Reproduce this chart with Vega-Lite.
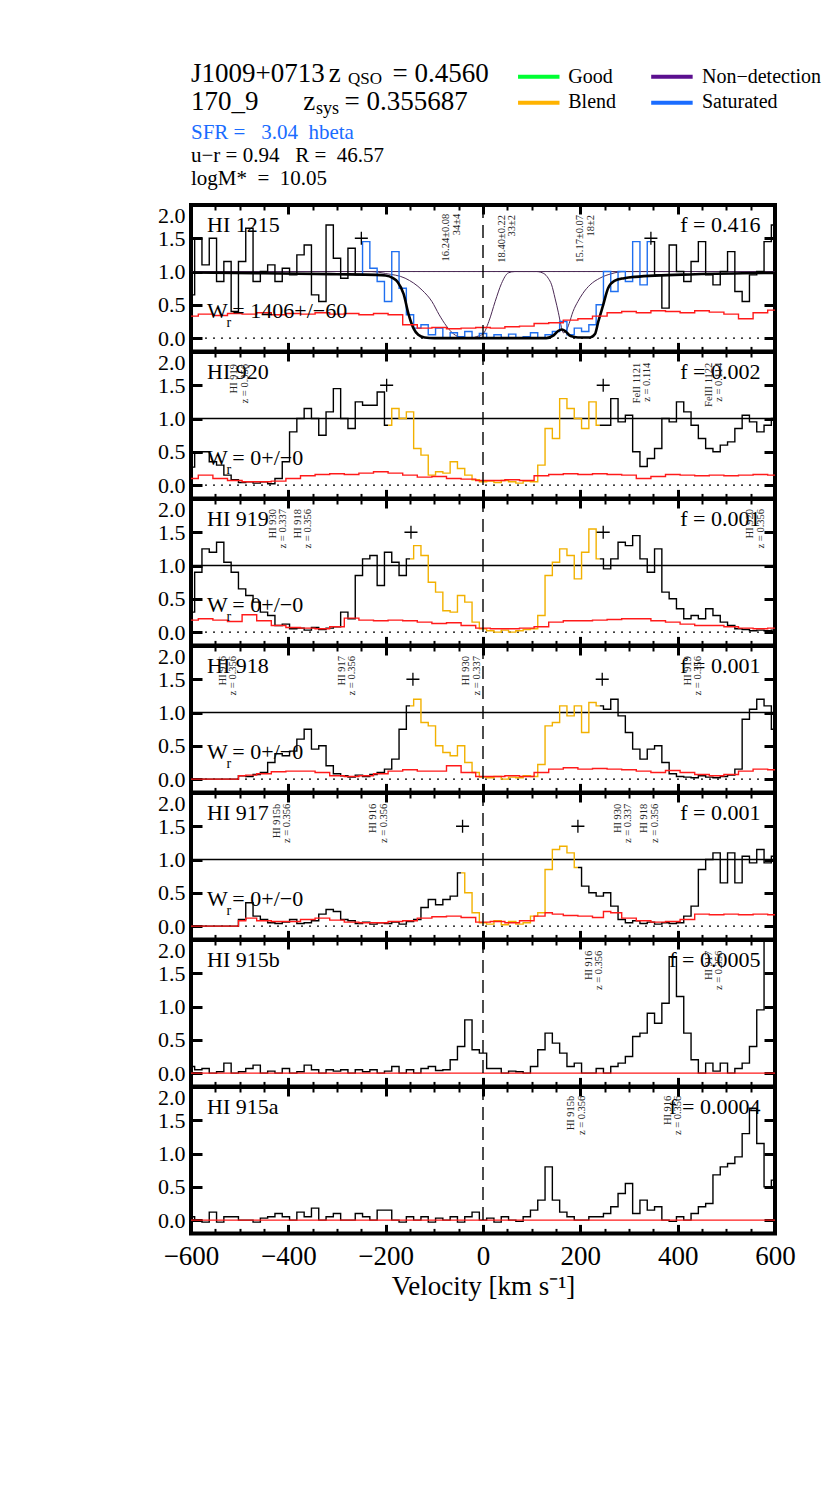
{
"$schema": "https://vega.github.io/schema/vega-lite/v6.json",
"background": "white",
"padding": {"left": 155, "top": 55, "right": 5, "bottom": 5},
"config": {"font": "Liberation Serif", "view": {"stroke": "black", "strokeWidth": 4}},
"datasets": {
"hdr": [
{"x":0,"y":2.67,"t":"J1009+0713","fs":27,"col":"black"},
{"x":23.6,"y":2.67,"t":"z","fs":27,"col":"black"},
{"x":26.9,"y":2.93,"t":"QSO","fs":17,"col":"black"},
{"x":34.5,"y":2.67,"t":"= 0.4560","fs":27,"col":"black"},
{"x":0,"y":5.5,"t":"170_9","fs":27,"col":"black"},
{"x":19.2,"y":5.5,"t":"z","fs":27,"col":"black"},
{"x":21.4,"y":5.85,"t":"sys","fs":18,"col":"black"},
{"x":26.3,"y":5.5,"t":"= 0.355687","fs":27,"col":"black"},
{"x":0,"y":8.43,"t":"SFR =\u00a0\u00a0\u00a03.04\u00a0\u00a0hbeta","fs":21,"col":"#1a6cff"},
{"x":0,"y":10.67,"t":"u−r = 0.94\u00a0\u00a0\u00a0R =\u00a0\u00a046.57","fs":21,"col":"black"},
{"x":0,"y":13.0,"t":"logM*\u00a0\u00a0=\u00a0\u00a010.05","fs":21,"col":"black"},
{"x":64.6,"y":2.75,"t":"Good","fs":20,"col":"black"},
{"x":64.6,"y":5.3,"t":"Blend","fs":20,"col":"black"},
{"x":87.5,"y":2.75,"t":"Non−detection","fs":20,"col":"black"},
{"x":87.5,"y":5.3,"t":"Saturated","fs":20,"col":"black"}
],
"leg": [
{"x":56.0,"x2":63.1,"y":2.17,"col":"#00ff33"},
{"x":56.0,"x2":63.1,"y":4.77,"col":"#ffb300"},
{"x":78.8,"x2":85.9,"y":2.17,"col":"#5b0f8f"},
{"x":78.8,"x2":85.9,"y":4.77,"col":"#1a6cff"}
],
"flux": [
{"p":1,"v":-600,"f":0.65,"s":"k1"},{"p":1,"v":-585,"f":1.5,"s":"k1"},{"p":1,"v":-570,"f":1.1,"s":"k1"},{"p":1,"v":-555,"f":1.5,"s":"k1"},{"p":1,"v":-540,"f":0.85,"s":"k1"},{"p":1,"v":-525,"f":1.15,"s":"k1"},{"p":1,"v":-510,"f":0.4,"s":"k1"},{"p":1,"v":-495,"f":1.15,"s":"k1"},{"p":1,"v":-480,"f":1.65,"s":"k1"},{"p":1,"v":-465,"f":0.85,"s":"k1"},{"p":1,"v":-450,"f":1.0,"s":"k1"},{"p":1,"v":-435,"f":1.1,"s":"k1"},{"p":1,"v":-420,"f":0.85,"s":"k1"},{"p":1,"v":-405,"f":1.05,"s":"k1"},{"p":1,"v":-390,"f":0.95,"s":"k1"},{"p":1,"v":-375,"f":1.25,"s":"k1"},{"p":1,"v":-360,"f":1.4,"s":"k1"},{"p":1,"v":-345,"f":0.65,"s":"k1"},{"p":1,"v":-330,"f":0.55,"s":"k1"},{"p":1,"v":-315,"f":1.7,"s":"k1"},{"p":1,"v":-300,"f":1.2,"s":"k1"},{"p":1,"v":-285,"f":0.9,"s":"k1"},{"p":1,"v":-270,"f":1.35,"s":"k1"},{"p":1,"v":-255,"f":0.95,"s":"k1"},
{"p":1,"v":-255,"f":0.95,"s":"b"},{"p":1,"v":-240,"f":1.45,"s":"b"},{"p":1,"v":-225,"f":1.05,"s":"b"},{"p":1,"v":-210,"f":0.85,"s":"b"},{"p":1,"v":-195,"f":0.55,"s":"b"},{"p":1,"v":-180,"f":1.3,"s":"b"},{"p":1,"v":-165,"f":0.75,"s":"b"},{"p":1,"v":-150,"f":0.35,"s":"b"},{"p":1,"v":-135,"f":0.15,"s":"b"},{"p":1,"v":-120,"f":0.2,"s":"b"},{"p":1,"v":-105,"f":0.05,"s":"b"},{"p":1,"v":-90,"f":0.15,"s":"b"},{"p":1,"v":-75,"f":0.0,"s":"b"},{"p":1,"v":-60,"f":0.08,"s":"b"},{"p":1,"v":-45,"f":0.02,"s":"b"},{"p":1,"v":-30,"f":0.1,"s":"b"},{"p":1,"v":-15,"f":0.0,"s":"b"},{"p":1,"v":0,"f":0.07,"s":"b"},{"p":1,"v":15,"f":0.0,"s":"b"},{"p":1,"v":30,"f":0.05,"s":"b"},{"p":1,"v":45,"f":0.0,"s":"b"},{"p":1,"v":60,"f":0.06,"s":"b"},{"p":1,"v":75,"f":0.0,"s":"b"},{"p":1,"v":90,"f":0.02,"s":"b"},{"p":1,"v":105,"f":0.08,"s":"b"},{"p":1,"v":120,"f":0.0,"s":"b"},{"p":1,"v":135,"f":0.05,"s":"b"},{"p":1,"v":150,"f":0.1,"s":"b"},{"p":1,"v":165,"f":0.25,"s":"b"},{"p":1,"v":180,"f":0.05,"s":"b"},{"p":1,"v":195,"f":0.15,"s":"b"},{"p":1,"v":210,"f":0.1,"s":"b"},{"p":1,"v":225,"f":0.2,"s":"b"},{"p":1,"v":240,"f":0.5,"s":"b"},{"p":1,"v":255,"f":1.0,"s":"b"},{"p":1,"v":270,"f":0.7,"s":"b"},{"p":1,"v":285,"f":1.0,"s":"b"},{"p":1,"v":300,"f":0.85,"s":"b"},{"p":1,"v":315,"f":1.45,"s":"b"},{"p":1,"v":330,"f":0.8,"s":"b"},{"p":1,"v":345,"f":1.45,"s":"b"},
{"p":1,"v":345,"f":1.45,"s":"k2"},{"p":1,"v":360,"f":0.95,"s":"k2"},{"p":1,"v":375,"f":0.45,"s":"k2"},{"p":1,"v":390,"f":1.4,"s":"k2"},{"p":1,"v":405,"f":1.0,"s":"k2"},{"p":1,"v":420,"f":0.85,"s":"k2"},{"p":1,"v":435,"f":1.15,"s":"k2"},{"p":1,"v":450,"f":1.45,"s":"k2"},{"p":1,"v":465,"f":0.95,"s":"k2"},{"p":1,"v":480,"f":0.8,"s":"k2"},{"p":1,"v":495,"f":1.0,"s":"k2"},{"p":1,"v":510,"f":1.3,"s":"k2"},{"p":1,"v":525,"f":0.7,"s":"k2"},{"p":1,"v":540,"f":0.55,"s":"k2"},{"p":1,"v":555,"f":0.95,"s":"k2"},{"p":1,"v":570,"f":1.0,"s":"k2"},{"p":1,"v":585,"f":1.45,"s":"k2"},{"p":1,"v":600,"f":1.7,"s":"k2"},

{"p":2,"v":-600,"f":0.27,"s":"k1"},{"p":2,"v":-585,"f":0.48,"s":"k1"},{"p":2,"v":-570,"f":0.5,"s":"k1"},{"p":2,"v":-555,"f":0.35,"s":"k1"},{"p":2,"v":-540,"f":0.3,"s":"k1"},{"p":2,"v":-525,"f":0.15,"s":"k1"},{"p":2,"v":-510,"f":0.08,"s":"k1"},{"p":2,"v":-495,"f":0.04,"s":"k1"},{"p":2,"v":-480,"f":0.05,"s":"k1"},{"p":2,"v":-465,"f":0.03,"s":"k1"},{"p":2,"v":-450,"f":0.05,"s":"k1"},{"p":2,"v":-435,"f":0.02,"s":"k1"},{"p":2,"v":-420,"f":0.1,"s":"k1"},{"p":2,"v":-405,"f":0.35,"s":"k1"},{"p":2,"v":-390,"f":0.8,"s":"k1"},{"p":2,"v":-375,"f":1.0,"s":"k1"},{"p":2,"v":-360,"f":1.15,"s":"k1"},{"p":2,"v":-345,"f":1.0,"s":"k1"},{"p":2,"v":-330,"f":0.75,"s":"k1"},{"p":2,"v":-315,"f":1.1,"s":"k1"},{"p":2,"v":-300,"f":1.45,"s":"k1"},{"p":2,"v":-285,"f":1.0,"s":"k1"},{"p":2,"v":-270,"f":0.85,"s":"k1"},{"p":2,"v":-255,"f":1.25,"s":"k1"},{"p":2,"v":-240,"f":1.2,"s":"k1"},{"p":2,"v":-225,"f":1.2,"s":"k1"},{"p":2,"v":-210,"f":1.4,"s":"k1"},{"p":2,"v":-195,"f":0.9,"s":"k1"},
{"p":2,"v":-195,"f":0.9,"s":"o"},{"p":2,"v":-180,"f":1.15,"s":"o"},{"p":2,"v":-165,"f":1.0,"s":"o"},{"p":2,"v":-150,"f":1.1,"s":"o"},{"p":2,"v":-135,"f":0.55,"s":"o"},{"p":2,"v":-120,"f":0.45,"s":"o"},{"p":2,"v":-105,"f":0.15,"s":"o"},{"p":2,"v":-90,"f":0.2,"s":"o"},{"p":2,"v":-75,"f":0.18,"s":"o"},{"p":2,"v":-60,"f":0.35,"s":"o"},{"p":2,"v":-45,"f":0.25,"s":"o"},{"p":2,"v":-30,"f":0.15,"s":"o"},{"p":2,"v":-15,"f":0.08,"s":"o"},{"p":2,"v":0,"f":0.05,"s":"o"},{"p":2,"v":15,"f":0.06,"s":"o"},{"p":2,"v":30,"f":0.04,"s":"o"},{"p":2,"v":45,"f":0.07,"s":"o"},{"p":2,"v":60,"f":0.05,"s":"o"},{"p":2,"v":75,"f":0.03,"s":"o"},{"p":2,"v":90,"f":0.06,"s":"o"},{"p":2,"v":105,"f":0.05,"s":"o"},{"p":2,"v":120,"f":0.3,"s":"o"},{"p":2,"v":135,"f":0.85,"s":"o"},{"p":2,"v":150,"f":0.7,"s":"o"},{"p":2,"v":165,"f":1.3,"s":"o"},{"p":2,"v":180,"f":1.15,"s":"o"},{"p":2,"v":195,"f":1.0,"s":"o"},{"p":2,"v":210,"f":0.85,"s":"o"},{"p":2,"v":225,"f":1.25,"s":"o"},{"p":2,"v":240,"f":0.9,"s":"o"},
{"p":2,"v":240,"f":0.9,"s":"k2"},{"p":2,"v":255,"f":0.9,"s":"k2"},{"p":2,"v":270,"f":1.3,"s":"k2"},{"p":2,"v":285,"f":0.95,"s":"k2"},{"p":2,"v":300,"f":1.05,"s":"k2"},{"p":2,"v":315,"f":0.5,"s":"k2"},{"p":2,"v":330,"f":0.28,"s":"k2"},{"p":2,"v":345,"f":0.4,"s":"k2"},{"p":2,"v":360,"f":0.55,"s":"k2"},{"p":2,"v":375,"f":1.0,"s":"k2"},{"p":2,"v":390,"f":0.95,"s":"k2"},{"p":2,"v":405,"f":1.25,"s":"k2"},{"p":2,"v":420,"f":1.1,"s":"k2"},{"p":2,"v":435,"f":0.9,"s":"k2"},{"p":2,"v":450,"f":0.7,"s":"k2"},{"p":2,"v":465,"f":0.55,"s":"k2"},{"p":2,"v":480,"f":0.5,"s":"k2"},{"p":2,"v":495,"f":0.6,"s":"k2"},{"p":2,"v":510,"f":0.65,"s":"k2"},{"p":2,"v":525,"f":0.85,"s":"k2"},{"p":2,"v":540,"f":1.05,"s":"k2"},{"p":2,"v":555,"f":0.95,"s":"k2"},{"p":2,"v":570,"f":0.8,"s":"k2"},{"p":2,"v":585,"f":0.9,"s":"k2"},{"p":2,"v":600,"f":1.0,"s":"k2"},

{"p":3,"v":-600,"f":0.3,"s":"k1"},{"p":3,"v":-585,"f":0.9,"s":"k1"},{"p":3,"v":-570,"f":1.25,"s":"k1"},{"p":3,"v":-555,"f":1.2,"s":"k1"},{"p":3,"v":-540,"f":1.35,"s":"k1"},{"p":3,"v":-525,"f":1.05,"s":"k1"},{"p":3,"v":-510,"f":0.9,"s":"k1"},{"p":3,"v":-495,"f":0.65,"s":"k1"},{"p":3,"v":-480,"f":0.55,"s":"k1"},{"p":3,"v":-465,"f":0.45,"s":"k1"},{"p":3,"v":-450,"f":0.3,"s":"k1"},{"p":3,"v":-435,"f":0.25,"s":"k1"},{"p":3,"v":-420,"f":0.1,"s":"k1"},{"p":3,"v":-405,"f":0.12,"s":"k1"},{"p":3,"v":-390,"f":0.05,"s":"k1"},{"p":3,"v":-375,"f":0.06,"s":"k1"},{"p":3,"v":-360,"f":0.03,"s":"k1"},{"p":3,"v":-345,"f":0.07,"s":"k1"},{"p":3,"v":-330,"f":0.04,"s":"k1"},{"p":3,"v":-315,"f":0.06,"s":"k1"},{"p":3,"v":-300,"f":0.08,"s":"k1"},{"p":3,"v":-285,"f":0.3,"s":"k1"},{"p":3,"v":-270,"f":0.2,"s":"k1"},{"p":3,"v":-255,"f":0.85,"s":"k1"},{"p":3,"v":-240,"f":1.1,"s":"k1"},{"p":3,"v":-225,"f":1.15,"s":"k1"},{"p":3,"v":-210,"f":0.7,"s":"k1"},{"p":3,"v":-195,"f":1.2,"s":"k1"},{"p":3,"v":-180,"f":1.05,"s":"k1"},{"p":3,"v":-165,"f":0.85,"s":"k1"},{"p":3,"v":-150,"f":1.1,"s":"k1"},
{"p":3,"v":-150,"f":1.1,"s":"o"},{"p":3,"v":-135,"f":1.3,"s":"o"},{"p":3,"v":-120,"f":1.15,"s":"o"},{"p":3,"v":-105,"f":0.75,"s":"o"},{"p":3,"v":-90,"f":0.6,"s":"o"},{"p":3,"v":-75,"f":0.32,"s":"o"},{"p":3,"v":-60,"f":0.3,"s":"o"},{"p":3,"v":-45,"f":0.55,"s":"o"},{"p":3,"v":-30,"f":0.45,"s":"o"},{"p":3,"v":-15,"f":0.15,"s":"o"},{"p":3,"v":0,"f":0.05,"s":"o"},{"p":3,"v":15,"f":0.02,"s":"o"},{"p":3,"v":30,"f":0.0,"s":"o"},{"p":3,"v":45,"f":0.03,"s":"o"},{"p":3,"v":60,"f":0.0,"s":"o"},{"p":3,"v":75,"f":0.02,"s":"o"},{"p":3,"v":90,"f":0.04,"s":"o"},{"p":3,"v":105,"f":0.05,"s":"o"},{"p":3,"v":120,"f":0.25,"s":"o"},{"p":3,"v":135,"f":0.85,"s":"o"},{"p":3,"v":150,"f":1.05,"s":"o"},{"p":3,"v":165,"f":1.25,"s":"o"},{"p":3,"v":180,"f":1.15,"s":"o"},{"p":3,"v":195,"f":0.8,"s":"o"},{"p":3,"v":210,"f":1.2,"s":"o"},{"p":3,"v":225,"f":1.55,"s":"o"},{"p":3,"v":240,"f":1.1,"s":"o"},
{"p":3,"v":240,"f":1.1,"s":"k2"},{"p":3,"v":255,"f":0.95,"s":"k2"},{"p":3,"v":270,"f":1.1,"s":"k2"},{"p":3,"v":285,"f":1.35,"s":"k2"},{"p":3,"v":300,"f":1.3,"s":"k2"},{"p":3,"v":315,"f":1.45,"s":"k2"},{"p":3,"v":330,"f":1.1,"s":"k2"},{"p":3,"v":345,"f":0.9,"s":"k2"},{"p":3,"v":360,"f":1.25,"s":"k2"},{"p":3,"v":375,"f":0.6,"s":"k2"},{"p":3,"v":390,"f":0.5,"s":"k2"},{"p":3,"v":405,"f":0.35,"s":"k2"},{"p":3,"v":420,"f":0.2,"s":"k2"},{"p":3,"v":435,"f":0.25,"s":"k2"},{"p":3,"v":450,"f":0.2,"s":"k2"},{"p":3,"v":465,"f":0.35,"s":"k2"},{"p":3,"v":480,"f":0.25,"s":"k2"},{"p":3,"v":495,"f":0.15,"s":"k2"},{"p":3,"v":510,"f":0.1,"s":"k2"},{"p":3,"v":525,"f":0.05,"s":"k2"},{"p":3,"v":540,"f":0.04,"s":"k2"},{"p":3,"v":555,"f":0.02,"s":"k2"},{"p":3,"v":570,"f":0.03,"s":"k2"},{"p":3,"v":585,"f":0.02,"s":"k2"},{"p":3,"v":600,"f":0.03,"s":"k2"},

{"p":4,"v":-600,"f":0.0,"s":"k1"},{"p":4,"v":-585,"f":0.0,"s":"k1"},{"p":4,"v":-570,"f":0.0,"s":"k1"},{"p":4,"v":-555,"f":0.0,"s":"k1"},{"p":4,"v":-540,"f":0.0,"s":"k1"},{"p":4,"v":-525,"f":0.0,"s":"k1"},{"p":4,"v":-510,"f":0.0,"s":"k1"},{"p":4,"v":-495,"f":0.05,"s":"k1"},{"p":4,"v":-480,"f":0.04,"s":"k1"},{"p":4,"v":-465,"f":0.07,"s":"k1"},{"p":4,"v":-450,"f":0.1,"s":"k1"},{"p":4,"v":-435,"f":0.25,"s":"k1"},{"p":4,"v":-420,"f":0.38,"s":"k1"},{"p":4,"v":-405,"f":0.35,"s":"k1"},{"p":4,"v":-390,"f":0.42,"s":"k1"},{"p":4,"v":-375,"f":0.6,"s":"k1"},{"p":4,"v":-360,"f":0.75,"s":"k1"},{"p":4,"v":-345,"f":0.45,"s":"k1"},{"p":4,"v":-330,"f":0.5,"s":"k1"},{"p":4,"v":-315,"f":0.2,"s":"k1"},{"p":4,"v":-300,"f":0.08,"s":"k1"},{"p":4,"v":-285,"f":0.05,"s":"k1"},{"p":4,"v":-270,"f":0.03,"s":"k1"},{"p":4,"v":-255,"f":0.06,"s":"k1"},{"p":4,"v":-240,"f":0.04,"s":"k1"},{"p":4,"v":-225,"f":0.07,"s":"k1"},{"p":4,"v":-210,"f":0.1,"s":"k1"},{"p":4,"v":-195,"f":0.15,"s":"k1"},{"p":4,"v":-180,"f":0.3,"s":"k1"},{"p":4,"v":-165,"f":0.75,"s":"k1"},{"p":4,"v":-150,"f":1.1,"s":"k1"},
{"p":4,"v":-150,"f":1.1,"s":"o"},{"p":4,"v":-135,"f":1.2,"s":"o"},{"p":4,"v":-120,"f":0.85,"s":"o"},{"p":4,"v":-105,"f":0.8,"s":"o"},{"p":4,"v":-90,"f":0.5,"s":"o"},{"p":4,"v":-75,"f":0.4,"s":"o"},{"p":4,"v":-60,"f":0.35,"s":"o"},{"p":4,"v":-45,"f":0.5,"s":"o"},{"p":4,"v":-30,"f":0.25,"s":"o"},{"p":4,"v":-15,"f":0.1,"s":"o"},{"p":4,"v":0,"f":0.03,"s":"o"},{"p":4,"v":15,"f":0.02,"s":"o"},{"p":4,"v":30,"f":0.04,"s":"o"},{"p":4,"v":45,"f":0.0,"s":"o"},{"p":4,"v":60,"f":0.03,"s":"o"},{"p":4,"v":75,"f":0.02,"s":"o"},{"p":4,"v":90,"f":0.05,"s":"o"},{"p":4,"v":105,"f":0.04,"s":"o"},{"p":4,"v":120,"f":0.22,"s":"o"},{"p":4,"v":135,"f":0.8,"s":"o"},{"p":4,"v":150,"f":0.85,"s":"o"},{"p":4,"v":165,"f":1.1,"s":"o"},{"p":4,"v":180,"f":0.95,"s":"o"},{"p":4,"v":195,"f":1.1,"s":"o"},{"p":4,"v":210,"f":0.7,"s":"o"},{"p":4,"v":225,"f":1.15,"s":"o"},{"p":4,"v":240,"f":1.1,"s":"o"},
{"p":4,"v":240,"f":1.1,"s":"k2"},{"p":4,"v":255,"f":1.05,"s":"k2"},{"p":4,"v":270,"f":1.2,"s":"k2"},{"p":4,"v":285,"f":0.95,"s":"k2"},{"p":4,"v":300,"f":0.7,"s":"k2"},{"p":4,"v":315,"f":0.45,"s":"k2"},{"p":4,"v":330,"f":0.3,"s":"k2"},{"p":4,"v":345,"f":0.45,"s":"k2"},{"p":4,"v":360,"f":0.5,"s":"k2"},{"p":4,"v":375,"f":0.25,"s":"k2"},{"p":4,"v":390,"f":0.08,"s":"k2"},{"p":4,"v":405,"f":0.04,"s":"k2"},{"p":4,"v":420,"f":0.03,"s":"k2"},{"p":4,"v":435,"f":0.02,"s":"k2"},{"p":4,"v":450,"f":0.05,"s":"k2"},{"p":4,"v":465,"f":0.03,"s":"k2"},{"p":4,"v":480,"f":0.02,"s":"k2"},{"p":4,"v":495,"f":0.04,"s":"k2"},{"p":4,"v":510,"f":0.06,"s":"k2"},{"p":4,"v":525,"f":0.15,"s":"k2"},{"p":4,"v":540,"f":0.9,"s":"k2"},{"p":4,"v":555,"f":1.05,"s":"k2"},{"p":4,"v":570,"f":1.2,"s":"k2"},{"p":4,"v":585,"f":1.1,"s":"k2"},{"p":4,"v":600,"f":0.75,"s":"k2"},

{"p":5,"v":-600,"f":0.0,"s":"k1"},{"p":5,"v":-585,"f":0.0,"s":"k1"},{"p":5,"v":-570,"f":0.0,"s":"k1"},{"p":5,"v":-555,"f":0.0,"s":"k1"},{"p":5,"v":-540,"f":0.0,"s":"k1"},{"p":5,"v":-525,"f":0.0,"s":"k1"},{"p":5,"v":-510,"f":0.0,"s":"k1"},{"p":5,"v":-495,"f":0.1,"s":"k1"},{"p":5,"v":-480,"f":0.35,"s":"k1"},{"p":5,"v":-465,"f":0.15,"s":"k1"},{"p":5,"v":-450,"f":0.1,"s":"k1"},{"p":5,"v":-435,"f":0.05,"s":"k1"},{"p":5,"v":-420,"f":0.04,"s":"k1"},{"p":5,"v":-405,"f":0.06,"s":"k1"},{"p":5,"v":-390,"f":0.1,"s":"k1"},{"p":5,"v":-375,"f":0.04,"s":"k1"},{"p":5,"v":-360,"f":0.05,"s":"k1"},{"p":5,"v":-345,"f":0.08,"s":"k1"},{"p":5,"v":-330,"f":0.18,"s":"k1"},{"p":5,"v":-315,"f":0.25,"s":"k1"},{"p":5,"v":-300,"f":0.22,"s":"k1"},{"p":5,"v":-285,"f":0.1,"s":"k1"},{"p":5,"v":-270,"f":0.08,"s":"k1"},{"p":5,"v":-255,"f":0.04,"s":"k1"},{"p":5,"v":-240,"f":0.06,"s":"k1"},{"p":5,"v":-225,"f":0.03,"s":"k1"},{"p":5,"v":-210,"f":0.05,"s":"k1"},{"p":5,"v":-195,"f":0.04,"s":"k1"},{"p":5,"v":-180,"f":0.06,"s":"k1"},{"p":5,"v":-165,"f":0.03,"s":"k1"},{"p":5,"v":-150,"f":0.07,"s":"k1"},{"p":5,"v":-135,"f":0.1,"s":"k1"},{"p":5,"v":-120,"f":0.28,"s":"k1"},{"p":5,"v":-105,"f":0.4,"s":"k1"},{"p":5,"v":-90,"f":0.32,"s":"k1"},{"p":5,"v":-75,"f":0.4,"s":"k1"},{"p":5,"v":-60,"f":0.45,"s":"k1"},{"p":5,"v":-45,"f":0.8,"s":"k1"},
{"p":5,"v":-45,"f":0.8,"s":"o"},{"p":5,"v":-30,"f":0.5,"s":"o"},{"p":5,"v":-15,"f":0.2,"s":"o"},{"p":5,"v":0,"f":0.05,"s":"o"},{"p":5,"v":15,"f":0.03,"s":"o"},{"p":5,"v":30,"f":0.08,"s":"o"},{"p":5,"v":45,"f":0.02,"s":"o"},{"p":5,"v":60,"f":0.07,"s":"o"},{"p":5,"v":75,"f":0.03,"s":"o"},{"p":5,"v":90,"f":0.05,"s":"o"},{"p":5,"v":105,"f":0.15,"s":"o"},{"p":5,"v":120,"f":0.2,"s":"o"},{"p":5,"v":135,"f":0.85,"s":"o"},{"p":5,"v":150,"f":1.15,"s":"o"},{"p":5,"v":165,"f":1.2,"s":"o"},{"p":5,"v":180,"f":1.1,"s":"o"},{"p":5,"v":195,"f":0.88,"s":"o"},
{"p":5,"v":195,"f":0.88,"s":"k2"},{"p":5,"v":210,"f":0.6,"s":"k2"},{"p":5,"v":225,"f":0.5,"s":"k2"},{"p":5,"v":240,"f":0.45,"s":"k2"},{"p":5,"v":255,"f":0.5,"s":"k2"},{"p":5,"v":270,"f":0.3,"s":"k2"},{"p":5,"v":285,"f":0.1,"s":"k2"},{"p":5,"v":300,"f":0.05,"s":"k2"},{"p":5,"v":315,"f":0.08,"s":"k2"},{"p":5,"v":330,"f":0.04,"s":"k2"},{"p":5,"v":345,"f":0.06,"s":"k2"},{"p":5,"v":360,"f":0.03,"s":"k2"},{"p":5,"v":375,"f":0.05,"s":"k2"},{"p":5,"v":390,"f":0.04,"s":"k2"},{"p":5,"v":405,"f":0.05,"s":"k2"},{"p":5,"v":420,"f":0.15,"s":"k2"},{"p":5,"v":435,"f":0.3,"s":"k2"},{"p":5,"v":450,"f":0.85,"s":"k2"},{"p":5,"v":465,"f":1.0,"s":"k2"},{"p":5,"v":480,"f":1.1,"s":"k2"},{"p":5,"v":495,"f":0.65,"s":"k2"},{"p":5,"v":510,"f":1.1,"s":"k2"},{"p":5,"v":525,"f":0.65,"s":"k2"},{"p":5,"v":540,"f":1.05,"s":"k2"},{"p":5,"v":555,"f":0.95,"s":"k2"},{"p":5,"v":570,"f":1.15,"s":"k2"},{"p":5,"v":585,"f":0.95,"s":"k2"},{"p":5,"v":600,"f":1.05,"s":"k2"},

{"p":6,"v":-600,"f":0.1,"s":"k1"},{"p":6,"v":-585,"f":0.05,"s":"k1"},{"p":6,"v":-570,"f":0.07,"s":"k1"},{"p":6,"v":-555,"f":0.0,"s":"k1"},{"p":6,"v":-540,"f":0.02,"s":"k1"},{"p":6,"v":-525,"f":0.15,"s":"k1"},{"p":6,"v":-510,"f":0.0,"s":"k1"},{"p":6,"v":-495,"f":0.02,"s":"k1"},{"p":6,"v":-480,"f":0.07,"s":"k1"},{"p":6,"v":-465,"f":0.12,"s":"k1"},{"p":6,"v":-450,"f":0.0,"s":"k1"},{"p":6,"v":-435,"f":0.03,"s":"k1"},{"p":6,"v":-420,"f":0.0,"s":"k1"},{"p":6,"v":-405,"f":0.07,"s":"k1"},{"p":6,"v":-390,"f":0.0,"s":"k1"},{"p":6,"v":-375,"f":0.02,"s":"k1"},{"p":6,"v":-360,"f":0.12,"s":"k1"},{"p":6,"v":-345,"f":0.05,"s":"k1"},{"p":6,"v":-330,"f":0.0,"s":"k1"},{"p":6,"v":-315,"f":0.05,"s":"k1"},{"p":6,"v":-300,"f":0.03,"s":"k1"},{"p":6,"v":-285,"f":0.05,"s":"k1"},{"p":6,"v":-270,"f":0.0,"s":"k1"},{"p":6,"v":-255,"f":0.05,"s":"k1"},{"p":6,"v":-240,"f":0.02,"s":"k1"},{"p":6,"v":-225,"f":0.05,"s":"k1"},{"p":6,"v":-210,"f":0.0,"s":"k1"},{"p":6,"v":-195,"f":0.03,"s":"k1"},{"p":6,"v":-180,"f":0.1,"s":"k1"},{"p":6,"v":-165,"f":0.0,"s":"k1"},{"p":6,"v":-150,"f":0.05,"s":"k1"},{"p":6,"v":-135,"f":0.0,"s":"k1"},{"p":6,"v":-120,"f":0.07,"s":"k1"},{"p":6,"v":-105,"f":0.1,"s":"k1"},{"p":6,"v":-90,"f":0.04,"s":"k1"},{"p":6,"v":-75,"f":0.05,"s":"k1"},{"p":6,"v":-60,"f":0.2,"s":"k1"},{"p":6,"v":-45,"f":0.4,"s":"k1"},{"p":6,"v":-30,"f":0.8,"s":"k1"},{"p":6,"v":-15,"f":0.35,"s":"k1"},{"p":6,"v":0,"f":0.3,"s":"k1"},{"p":6,"v":15,"f":0.07,"s":"k1"},{"p":6,"v":30,"f":0.07,"s":"k1"},{"p":6,"v":45,"f":0.0,"s":"k1"},{"p":6,"v":60,"f":0.03,"s":"k1"},{"p":6,"v":75,"f":0.02,"s":"k1"},{"p":6,"v":90,"f":0.0,"s":"k1"},{"p":6,"v":105,"f":0.1,"s":"k1"},{"p":6,"v":120,"f":0.35,"s":"k1"},{"p":6,"v":135,"f":0.6,"s":"k1"},{"p":6,"v":150,"f":0.45,"s":"k1"},{"p":6,"v":165,"f":0.3,"s":"k1"},{"p":6,"v":180,"f":0.1,"s":"k1"},{"p":6,"v":195,"f":0.15,"s":"k1"},{"p":6,"v":210,"f":0.0,"s":"k1"},{"p":6,"v":225,"f":0.0,"s":"k1"},{"p":6,"v":240,"f":0.07,"s":"k1"},{"p":6,"v":255,"f":0.0,"s":"k1"},{"p":6,"v":270,"f":0.1,"s":"k1"},{"p":6,"v":285,"f":0.15,"s":"k1"},{"p":6,"v":300,"f":0.25,"s":"k1"},{"p":6,"v":315,"f":0.55,"s":"k1"},{"p":6,"v":330,"f":0.6,"s":"k1"},{"p":6,"v":345,"f":0.9,"s":"k1"},{"p":6,"v":360,"f":0.75,"s":"k1"},{"p":6,"v":375,"f":1.05,"s":"k1"},{"p":6,"v":390,"f":1.75,"s":"k1"},{"p":6,"v":405,"f":1.15,"s":"k1"},{"p":6,"v":420,"f":0.6,"s":"k1"},{"p":6,"v":435,"f":0.2,"s":"k1"},{"p":6,"v":450,"f":0.0,"s":"k1"},{"p":6,"v":465,"f":0.15,"s":"k1"},{"p":6,"v":480,"f":0.03,"s":"k1"},{"p":6,"v":495,"f":0.15,"s":"k1"},{"p":6,"v":510,"f":0.0,"s":"k1"},{"p":6,"v":525,"f":0.07,"s":"k1"},{"p":6,"v":540,"f":0.15,"s":"k1"},{"p":6,"v":555,"f":0.4,"s":"k1"},{"p":6,"v":570,"f":0.95,"s":"k1"},{"p":6,"v":585,"f":2.2,"s":"k1"},{"p":6,"v":600,"f":2.2,"s":"k1"},

{"p":7,"v":-600,"f":0.05,"s":"k1"},{"p":7,"v":-585,"f":0.0,"s":"k1"},{"p":7,"v":-570,"f":-0.03,"s":"k1"},{"p":7,"v":-555,"f":0.12,"s":"k1"},{"p":7,"v":-540,"f":-0.03,"s":"k1"},{"p":7,"v":-525,"f":0.05,"s":"k1"},{"p":7,"v":-510,"f":0.05,"s":"k1"},{"p":7,"v":-495,"f":0.0,"s":"k1"},{"p":7,"v":-480,"f":0.0,"s":"k1"},{"p":7,"v":-465,"f":-0.03,"s":"k1"},{"p":7,"v":-450,"f":0.03,"s":"k1"},{"p":7,"v":-435,"f":0.05,"s":"k1"},{"p":7,"v":-420,"f":0.1,"s":"k1"},{"p":7,"v":-405,"f":0.05,"s":"k1"},{"p":7,"v":-390,"f":0.0,"s":"k1"},{"p":7,"v":-375,"f":0.12,"s":"k1"},{"p":7,"v":-360,"f":0.05,"s":"k1"},{"p":7,"v":-345,"f":0.18,"s":"k1"},{"p":7,"v":-330,"f":0.0,"s":"k1"},{"p":7,"v":-315,"f":0.05,"s":"k1"},{"p":7,"v":-300,"f":0.1,"s":"k1"},{"p":7,"v":-285,"f":0.0,"s":"k1"},{"p":7,"v":-270,"f":0.0,"s":"k1"},{"p":7,"v":-255,"f":0.1,"s":"k1"},{"p":7,"v":-240,"f":0.05,"s":"k1"},{"p":7,"v":-225,"f":0.0,"s":"k1"},{"p":7,"v":-210,"f":0.15,"s":"k1"},{"p":7,"v":-195,"f":0.15,"s":"k1"},{"p":7,"v":-180,"f":0.0,"s":"k1"},{"p":7,"v":-165,"f":-0.03,"s":"k1"},{"p":7,"v":-150,"f":0.05,"s":"k1"},{"p":7,"v":-135,"f":0.0,"s":"k1"},{"p":7,"v":-120,"f":0.05,"s":"k1"},{"p":7,"v":-105,"f":-0.03,"s":"k1"},{"p":7,"v":-90,"f":0.03,"s":"k1"},{"p":7,"v":-75,"f":0.0,"s":"k1"},{"p":7,"v":-60,"f":0.05,"s":"k1"},{"p":7,"v":-45,"f":-0.03,"s":"k1"},{"p":7,"v":-30,"f":0.05,"s":"k1"},{"p":7,"v":-15,"f":0.12,"s":"k1"},{"p":7,"v":0,"f":0.0,"s":"k1"},{"p":7,"v":15,"f":0.03,"s":"k1"},{"p":7,"v":30,"f":-0.03,"s":"k1"},{"p":7,"v":45,"f":0.05,"s":"k1"},{"p":7,"v":60,"f":0.0,"s":"k1"},{"p":7,"v":75,"f":-0.02,"s":"k1"},{"p":7,"v":90,"f":0.05,"s":"k1"},{"p":7,"v":105,"f":0.15,"s":"k1"},{"p":7,"v":120,"f":0.3,"s":"k1"},{"p":7,"v":135,"f":0.8,"s":"k1"},{"p":7,"v":150,"f":0.3,"s":"k1"},{"p":7,"v":165,"f":0.12,"s":"k1"},{"p":7,"v":180,"f":0.05,"s":"k1"},{"p":7,"v":195,"f":0.0,"s":"k1"},{"p":7,"v":210,"f":0.0,"s":"k1"},{"p":7,"v":225,"f":0.05,"s":"k1"},{"p":7,"v":240,"f":0.05,"s":"k1"},{"p":7,"v":255,"f":0.1,"s":"k1"},{"p":7,"v":270,"f":0.2,"s":"k1"},{"p":7,"v":285,"f":0.4,"s":"k1"},{"p":7,"v":300,"f":0.55,"s":"k1"},{"p":7,"v":315,"f":0.1,"s":"k1"},{"p":7,"v":330,"f":0.3,"s":"k1"},{"p":7,"v":345,"f":0.15,"s":"k1"},{"p":7,"v":360,"f":0.2,"s":"k1"},{"p":7,"v":375,"f":0.0,"s":"k1"},{"p":7,"v":390,"f":-0.02,"s":"k1"},{"p":7,"v":405,"f":0.05,"s":"k1"},{"p":7,"v":420,"f":0.0,"s":"k1"},{"p":7,"v":435,"f":0.1,"s":"k1"},{"p":7,"v":450,"f":0.2,"s":"k1"},{"p":7,"v":465,"f":0.25,"s":"k1"},{"p":7,"v":480,"f":0.68,"s":"k1"},{"p":7,"v":495,"f":0.8,"s":"k1"},{"p":7,"v":510,"f":0.85,"s":"k1"},{"p":7,"v":525,"f":0.95,"s":"k1"},{"p":7,"v":540,"f":1.3,"s":"k1"},{"p":7,"v":555,"f":1.68,"s":"k1"},{"p":7,"v":570,"f":1.15,"s":"k1"},{"p":7,"v":585,"f":0.5,"s":"k1"},{"p":7,"v":600,"f":0.6,"s":"k1"}
],
"err": [
{"p":1,"v":-600,"e":0.33},{"p":1,"v":-570,"e":0.36},{"p":1,"v":-540,"e":0.34},{"p":1,"v":-510,"e":0.37},{"p":1,"v":-480,"e":0.36},{"p":1,"v":-450,"e":0.38},{"p":1,"v":-420,"e":0.35},{"p":1,"v":-390,"e":0.37},{"p":1,"v":-360,"e":0.36},{"p":1,"v":-330,"e":0.38},{"p":1,"v":-300,"e":0.36},{"p":1,"v":-270,"e":0.37},{"p":1,"v":-240,"e":0.35},{"p":1,"v":-210,"e":0.37},{"p":1,"v":-180,"e":0.35},{"p":1,"v":-150,"e":0.2},{"p":1,"v":-120,"e":0.15},{"p":1,"v":-90,"e":0.16},{"p":1,"v":-60,"e":0.14},{"p":1,"v":-30,"e":0.15},{"p":1,"v":0,"e":0.16},{"p":1,"v":30,"e":0.15},{"p":1,"v":60,"e":0.17},{"p":1,"v":90,"e":0.18},{"p":1,"v":120,"e":0.22},{"p":1,"v":150,"e":0.23},{"p":1,"v":180,"e":0.27},{"p":1,"v":210,"e":0.29},{"p":1,"v":240,"e":0.33},{"p":1,"v":270,"e":0.38},{"p":1,"v":300,"e":0.4},{"p":1,"v":330,"e":0.38},{"p":1,"v":360,"e":0.41},{"p":1,"v":390,"e":0.4},{"p":1,"v":420,"e":0.38},{"p":1,"v":450,"e":0.41},{"p":1,"v":480,"e":0.39},{"p":1,"v":510,"e":0.36},{"p":1,"v":540,"e":0.29},{"p":1,"v":570,"e":0.38},{"p":1,"v":600,"e":0.42},
{"p":2,"v":-600,"e":0.1},{"p":2,"v":-570,"e":0.15},{"p":2,"v":-540,"e":0.1},{"p":2,"v":-510,"e":0.07},{"p":2,"v":-480,"e":0.05},{"p":2,"v":-450,"e":0.05},{"p":2,"v":-420,"e":0.06},{"p":2,"v":-390,"e":0.1},{"p":2,"v":-360,"e":0.14},{"p":2,"v":-330,"e":0.16},{"p":2,"v":-300,"e":0.17},{"p":2,"v":-270,"e":0.16},{"p":2,"v":-240,"e":0.18},{"p":2,"v":-210,"e":0.2},{"p":2,"v":-180,"e":0.18},{"p":2,"v":-150,"e":0.15},{"p":2,"v":-120,"e":0.12},{"p":2,"v":-90,"e":0.13},{"p":2,"v":-60,"e":0.1},{"p":2,"v":-30,"e":0.09},{"p":2,"v":0,"e":0.07},{"p":2,"v":30,"e":0.07},{"p":2,"v":60,"e":0.08},{"p":2,"v":90,"e":0.07},{"p":2,"v":120,"e":0.14},{"p":2,"v":150,"e":0.16},{"p":2,"v":180,"e":0.17},{"p":2,"v":210,"e":0.16},{"p":2,"v":240,"e":0.17},{"p":2,"v":270,"e":0.16},{"p":2,"v":300,"e":0.15},{"p":2,"v":330,"e":0.1},{"p":2,"v":360,"e":0.13},{"p":2,"v":390,"e":0.16},{"p":2,"v":420,"e":0.15},{"p":2,"v":450,"e":0.14},{"p":2,"v":480,"e":0.15},{"p":2,"v":510,"e":0.14},{"p":2,"v":540,"e":0.15},{"p":2,"v":570,"e":0.16},{"p":2,"v":600,"e":0.15},
{"p":3,"v":-600,"e":0.18},{"p":3,"v":-570,"e":0.2},{"p":3,"v":-540,"e":0.18},{"p":3,"v":-510,"e":0.16},{"p":3,"v":-480,"e":0.26},{"p":3,"v":-450,"e":0.17},{"p":3,"v":-420,"e":0.1},{"p":3,"v":-390,"e":0.07},{"p":3,"v":-360,"e":0.06},{"p":3,"v":-330,"e":0.05},{"p":3,"v":-300,"e":0.08},{"p":3,"v":-270,"e":0.21},{"p":3,"v":-240,"e":0.18},{"p":3,"v":-210,"e":0.17},{"p":3,"v":-180,"e":0.18},{"p":3,"v":-150,"e":0.17},{"p":3,"v":-120,"e":0.15},{"p":3,"v":-90,"e":0.13},{"p":3,"v":-60,"e":0.14},{"p":3,"v":-30,"e":0.1},{"p":3,"v":0,"e":0.06},{"p":3,"v":30,"e":0.05},{"p":3,"v":60,"e":0.05},{"p":3,"v":90,"e":0.06},{"p":3,"v":120,"e":0.08},{"p":3,"v":150,"e":0.15},{"p":3,"v":180,"e":0.17},{"p":3,"v":210,"e":0.17},{"p":3,"v":240,"e":0.18},{"p":3,"v":270,"e":0.19},{"p":3,"v":300,"e":0.2},{"p":3,"v":330,"e":0.2},{"p":3,"v":360,"e":0.17},{"p":3,"v":390,"e":0.15},{"p":3,"v":420,"e":0.12},{"p":3,"v":450,"e":0.1},{"p":3,"v":480,"e":0.1},{"p":3,"v":510,"e":0.08},{"p":3,"v":540,"e":0.06},{"p":3,"v":570,"e":0.05},{"p":3,"v":600,"e":0.06},
{"p":4,"v":-600,"e":0.0},{"p":4,"v":-570,"e":0.0},{"p":4,"v":-540,"e":0.0},{"p":4,"v":-510,"e":0.0},{"p":4,"v":-495,"e":0.05},{"p":4,"v":-480,"e":0.06},{"p":4,"v":-450,"e":0.08},{"p":4,"v":-420,"e":0.11},{"p":4,"v":-390,"e":0.12},{"p":4,"v":-360,"e":0.12},{"p":4,"v":-330,"e":0.1},{"p":4,"v":-300,"e":0.05},{"p":4,"v":-270,"e":0.04},{"p":4,"v":-240,"e":0.05},{"p":4,"v":-210,"e":0.08},{"p":4,"v":-180,"e":0.12},{"p":4,"v":-150,"e":0.14},{"p":4,"v":-120,"e":0.12},{"p":4,"v":-90,"e":0.12},{"p":4,"v":-60,"e":0.2},{"p":4,"v":-30,"e":0.1},{"p":4,"v":0,"e":0.04},{"p":4,"v":30,"e":0.04},{"p":4,"v":60,"e":0.05},{"p":4,"v":90,"e":0.04},{"p":4,"v":120,"e":0.1},{"p":4,"v":150,"e":0.15},{"p":4,"v":180,"e":0.17},{"p":4,"v":210,"e":0.15},{"p":4,"v":240,"e":0.16},{"p":4,"v":270,"e":0.15},{"p":4,"v":300,"e":0.14},{"p":4,"v":330,"e":0.12},{"p":4,"v":360,"e":0.1},{"p":4,"v":390,"e":0.13},{"p":4,"v":420,"e":0.1},{"p":4,"v":450,"e":0.07},{"p":4,"v":480,"e":0.05},{"p":4,"v":510,"e":0.07},{"p":4,"v":540,"e":0.12},{"p":4,"v":570,"e":0.15},{"p":4,"v":600,"e":0.14},
{"p":5,"v":-600,"e":0.0},{"p":5,"v":-570,"e":0.0},{"p":5,"v":-540,"e":0.0},{"p":5,"v":-510,"e":0.0},{"p":5,"v":-495,"e":0.08},{"p":5,"v":-480,"e":0.12},{"p":5,"v":-450,"e":0.08},{"p":5,"v":-420,"e":0.07},{"p":5,"v":-390,"e":0.07},{"p":5,"v":-360,"e":0.1},{"p":5,"v":-330,"e":0.12},{"p":5,"v":-300,"e":0.09},{"p":5,"v":-270,"e":0.06},{"p":5,"v":-240,"e":0.05},{"p":5,"v":-210,"e":0.05},{"p":5,"v":-180,"e":0.07},{"p":5,"v":-150,"e":0.08},{"p":5,"v":-120,"e":0.12},{"p":5,"v":-90,"e":0.14},{"p":5,"v":-60,"e":0.15},{"p":5,"v":-30,"e":0.13},{"p":5,"v":0,"e":0.06},{"p":5,"v":30,"e":0.07},{"p":5,"v":60,"e":0.05},{"p":5,"v":90,"e":0.08},{"p":5,"v":120,"e":0.15},{"p":5,"v":135,"e":0.2},{"p":5,"v":150,"e":0.18},{"p":5,"v":180,"e":0.16},{"p":5,"v":210,"e":0.15},{"p":5,"v":240,"e":0.13},{"p":5,"v":255,"e":0.22},{"p":5,"v":270,"e":0.2},{"p":5,"v":300,"e":0.12},{"p":5,"v":330,"e":0.08},{"p":5,"v":360,"e":0.06},{"p":5,"v":390,"e":0.07},{"p":5,"v":420,"e":0.1},{"p":5,"v":450,"e":0.18},{"p":5,"v":480,"e":0.17},{"p":5,"v":510,"e":0.18},{"p":5,"v":540,"e":0.17},{"p":5,"v":570,"e":0.18},{"p":5,"v":600,"e":0.17},
{"p":6,"v":-600,"e":0.0},{"p":6,"v":600,"e":0.0},
{"p":7,"v":-600,"e":0.0},{"p":7,"v":600,"e":0.0}
],
"model": [
{"v":-600,"m":0.985},{"v":-450,"m":0.975},{"v":-300,"m":0.96},{"v":-220,"m":0.95},{"v":-200,"m":0.94},{"v":-185,"m":0.9},{"v":-175,"m":0.84},{"v":-163,"m":0.66},{"v":-153,"m":0.36},{"v":-143,"m":0.15},{"v":-133,"m":0.05},{"v":-120,"m":0.01},{"v":-100,"m":0.0},{"v":130,"m":0.0},{"v":145,"m":0.04},{"v":155,"m":0.11},{"v":162,"m":0.13},{"v":170,"m":0.1},{"v":180,"m":0.03},{"v":195,"m":0.01},{"v":220,"m":0.01},{"v":230,"m":0.06},{"v":237,"m":0.25},{"v":247,"m":0.5},{"v":257,"m":0.75},{"v":270,"m":0.86},{"v":290,"m":0.9},{"v":312,"m":0.92},{"v":436,"m":0.96},{"v":600,"m":0.98}
],
"comp": [
{"c":"A","v":-600,"m":1},{"c":"A","v":-230,"m":1},{"c":"A","v":-200,"m":0.97},{"c":"A","v":-160,"m":0.9},{"c":"A","v":-125,"m":0.72},{"c":"A","v":-105,"m":0.55},{"c":"A","v":-90,"m":0.35},{"c":"A","v":-75,"m":0.18},{"c":"A","v":-60,"m":0.06},{"c":"A","v":-45,"m":0.01},{"c":"A","v":-25,"m":0.0},{"c":"A","v":-10,"m":0.03},{"c":"A","v":0,"m":0.06},{"c":"A","v":12,"m":0.25},{"c":"A","v":25,"m":0.55},{"c":"A","v":38,"m":0.82},{"c":"A","v":52,"m":0.98},{"c":"A","v":65,"m":1},{"c":"A","v":600,"m":1},
{"c":"C","v":-600,"m":1},{"c":"C","v":110,"m":1},{"c":"C","v":125,"m":0.97},{"c":"C","v":134,"m":0.9},{"c":"C","v":141,"m":0.8},{"c":"C","v":148,"m":0.6},{"c":"C","v":155,"m":0.38},{"c":"C","v":160,"m":0.2},{"c":"C","v":165,"m":0.08},{"c":"C","v":170,"m":0.1},{"c":"C","v":177,"m":0.22},{"c":"C","v":185,"m":0.4},{"c":"C","v":195,"m":0.55},{"c":"C","v":205,"m":0.67},{"c":"C","v":220,"m":0.8},{"c":"C","v":240,"m":0.9},{"c":"C","v":265,"m":0.97},{"c":"C","v":290,"m":1},{"c":"C","v":600,"m":1}
],
"plus": [
{"p":1,"v":-250},{"p":1,"v":345},{"p":2,"v":-198},{"p":2,"v":247},{"p":3,"v":-148},{"p":3,"v":247},{"p":4,"v":-144},{"p":4,"v":245},{"p":5,"v":-42},{"p":5,"v":195}
],
"lab": [
{"p":1,"k":"L","v":-567,"y":1.6,"t":"HI 1215"},{"p":1,"k":"R","v":570,"y":1.6,"t":"f = 0.416"},{"p":1,"k":"L","v":-567,"y":0.3,"t":"W"},{"p":1,"k":"S","v":-527,"y":0.16,"t":"r"},{"p":1,"k":"L","v":-515,"y":0.3,"t":"= 1406+/−60"},
{"p":2,"k":"L","v":-567,"y":1.6,"t":"HI 920"},{"p":2,"k":"R","v":570,"y":1.6,"t":"f = 0.002"},{"p":2,"k":"L","v":-567,"y":0.3,"t":"W"},{"p":2,"k":"S","v":-527,"y":0.16,"t":"r"},{"p":2,"k":"L","v":-515,"y":0.3,"t":"= 0+/−0"},
{"p":3,"k":"L","v":-567,"y":1.6,"t":"HI 919"},{"p":3,"k":"R","v":570,"y":1.6,"t":"f = 0.001"},{"p":3,"k":"L","v":-567,"y":0.3,"t":"W"},{"p":3,"k":"S","v":-527,"y":0.16,"t":"r"},{"p":3,"k":"L","v":-515,"y":0.3,"t":"= 0+/−0"},
{"p":4,"k":"L","v":-567,"y":1.6,"t":"HI 918"},{"p":4,"k":"R","v":570,"y":1.6,"t":"f = 0.001"},{"p":4,"k":"L","v":-567,"y":0.3,"t":"W"},{"p":4,"k":"S","v":-527,"y":0.16,"t":"r"},{"p":4,"k":"L","v":-515,"y":0.3,"t":"= 0+/−0"},
{"p":5,"k":"L","v":-567,"y":1.6,"t":"HI 917"},{"p":5,"k":"R","v":570,"y":1.6,"t":"f = 0.001"},{"p":5,"k":"L","v":-567,"y":0.3,"t":"W"},{"p":5,"k":"S","v":-527,"y":0.16,"t":"r"},{"p":5,"k":"L","v":-515,"y":0.3,"t":"= 0+/−0"},
{"p":6,"k":"L","v":-567,"y":1.6,"t":"HI 915b"},{"p":6,"k":"R","v":570,"y":1.6,"t":"f = 0.0005"},
{"p":7,"k":"L","v":-567,"y":1.6,"t":"HI 915a"},{"p":7,"k":"R","v":570,"y":1.6,"t":"f = 0.0004"}
],
"ann": [
{"p":1,"v":-69,"y":1.87,"t":"16.24±0.08\n34±4"},{"p":1,"v":45,"y":1.85,"t":"18.40±0.22\n33±2"},{"p":1,"v":206,"y":1.85,"t":"15.17±0.07\n18±2"},
{"p":2,"v":-505,"y":1.82,"t":"HI 919\nz = 0.356"},{"p":2,"v":322,"y":1.84,"t":"FeII 1121\nz = 0.114"},{"p":2,"v":470,"y":1.84,"t":"FeIII 1122\nz = 0.114"},
{"p":3,"v":-426,"y":1.85,"t":"HI 930\nz = 0.337"},{"p":3,"v":-374,"y":1.85,"t":"HI 918\nz = 0.356"},{"p":3,"v":555,"y":1.85,"t":"HI 920\nz = 0.356"},
{"p":4,"v":-529,"y":1.85,"t":"HI 916\nz = 0.356"},{"p":4,"v":-284,"y":1.85,"t":"HI 917\nz = 0.356"},{"p":4,"v":-28,"y":1.85,"t":"HI 930\nz = 0.337"},{"p":4,"v":427,"y":1.85,"t":"HI 919\nz = 0.356"},
{"p":5,"v":-418,"y":1.84,"t":"HI 915b\nz = 0.356"},{"p":5,"v":-219,"y":1.84,"t":"HI 916\nz = 0.356"},{"p":5,"v":283,"y":1.84,"t":"HI 930\nz = 0.337"},{"p":5,"v":337,"y":1.84,"t":"HI 918\nz = 0.356"},
{"p":6,"v":223,"y":1.84,"t":"HI 916\nz = 0.356"},{"p":6,"v":470,"y":1.84,"t":"HI 917\nz = 0.356"},
{"p":7,"v":187,"y":1.87,"t":"HI 915b\nz = 0.356"},{"p":7,"v":386,"y":1.87,"t":"HI 916\nz = 0.356"}
]
},
"spacing": 10,
"bounds": "flush",
"vconcat": [
{
"width": 584, "height": 140, "view": {"stroke": null},
"layer": [
{"data": {"name": "hdr"}, "mark": {"type": "text", "align": "left", "baseline": "alphabetic"},
 "encoding": {
  "x": {"field": "x", "type": "quantitative", "scale": {"domain": [0, 100], "nice": false, "zero": false}, "axis": null},
  "y": {"field": "y", "type": "quantitative", "scale": {"domain": [0, 14], "nice": false, "zero": false, "reverse": true}, "axis": null},
  "text": {"field": "t"},
  "size": {"field": "fs", "type": "quantitative", "scale": null},
  "color": {"field": "col", "type": "nominal", "scale": null}}},
{"data": {"name": "leg"}, "mark": {"type": "rule", "strokeWidth": 4},
 "encoding": {
  "x": {"field": "x", "type": "quantitative"}, "x2": {"field": "x2"},
  "y": {"field": "y", "type": "quantitative"},
  "color": {"field": "col", "type": "nominal", "scale": null}}}
]
},
{
"spacing": 0, "bounds": "flush",
"vconcat": [
{
"width": 584, "height": 146.4,
"resolve": {"axis": {"x": "independent", "y": "independent"}},
"layer": [
{"data": {"values": [{}]}, "mark": {"type": "rule", "color": "black", "strokeWidth": 1.3, "strokeDash": [2, 6]}, "encoding": {"y": {"datum": 0, "axis": null}}},
{"data": {"values": [{}]}, "mark": {"type": "rule", "color": "#4b2a55", "strokeWidth": 1, "strokeDash": [2, 3]}, "encoding": {"y": {"datum": 1, "axis": null}}},
{"data": {"name": "comp"}, "mark": {"type": "line", "interpolate": "monotone", "color": "#4b2a55", "strokeWidth": 1},
 "encoding": {"x": {"field": "v", "type": "quantitative", "axis": null}, "y": {"field": "m", "type": "quantitative", "axis": null}, "detail": {"field": "c"}}},
{"data": {"name": "flux"}, "transform": [{"filter": "datum.p==1"}], "mark": {"type": "line", "interpolate": "step", "strokeWidth": 1.4, "clip": true},
 "encoding": {
  "x": {"field": "v", "type": "quantitative", "scale": {"domain": [-600, 600], "nice": false, "zero": false}, "axis": {"orient": "bottom", "values": [-600,-400,-200,0,200,400,600], "labels": false, "domain": false, "grid": false, "tickSize": 9, "tickWidth": 3, "tickColor": "black", "offset": -9, "title": null}},
  "y": {"field": "f", "type": "quantitative", "scale": {"domain": [-0.2, 2], "nice": false, "zero": false}, "axis": {"orient": "left", "values": [0,0.5,1,1.5,2], "format": ".1f", "labelFlush": true, "labelFontSize": 22, "labelPadding": 6, "labelColor": "black", "domain": false, "grid": false, "tickSize": 11, "tickWidth": 3, "tickColor": "black", "offset": -11, "title": null}},
  "color": {"field": "s", "type": "nominal", "scale": {"domain": ["k1","k2","o","b"], "range": ["#000000","#000000","#f2b100","#1f6ff0"]}, "legend": null}}},
{"data": {"name": "model"}, "mark": {"type": "line", "interpolate": "monotone", "color": "black", "strokeWidth": 2.6},
 "encoding": {"x": {"field": "v", "type": "quantitative", "axis": null}, "y": {"field": "m", "type": "quantitative", "axis": null}}},
{"data": {"name": "err"}, "transform": [{"filter": "datum.p==1"}], "mark": {"type": "line", "interpolate": "step", "color": "#ff1a1a", "strokeWidth": 1.4, "clip": true},
 "encoding": {
  "x": {"field": "v", "type": "quantitative", "axis": {"orient": "top", "values": [-600,-400,-200,0,200,400,600], "labels": false, "domain": false, "grid": false, "tickSize": 9, "tickWidth": 3, "tickColor": "black", "offset": -9, "title": null}},
  "y": {"field": "e", "type": "quantitative", "axis": {"orient": "right", "values": [0,0.5,1,1.5,2], "labels": false, "domain": false, "grid": false, "tickSize": 11, "tickWidth": 3, "tickColor": "black", "offset": -11, "title": null}}}},
{"data": {"values": [{}]}, "mark": {"type": "rule", "color": "black", "strokeWidth": 1.4, "strokeDash": [13, 7]},
 "encoding": {"x": {"datum": 0, "axis": {"orient": "bottom", "values": [-550,-500,-450,-350,-300,-250,-150,-100,-50,50,100,150,250,300,350,450,500,550], "labels": false, "domain": false, "grid": false, "tickSize": 5, "tickWidth": 2, "tickColor": "black", "offset": -5, "title": null}}}},
{"data": {"name": "plus"}, "transform": [{"filter": "datum.p==1"}], "mark": {"type": "point", "shape": "M-1,0L1,0M0,-1L0,1", "filled": false, "color": "black", "strokeWidth": 1.3, "size": 170, "opacity": 1},
 "encoding": {"x": {"field": "v", "type": "quantitative", "axis": null}, "y": {"datum": 1.5, "axis": null}}},
{"data": {"name": "lab"}, "transform": [{"filter": "datum.p==1 && datum.k=='L'"}], "mark": {"type": "text", "align": "left", "baseline": "alphabetic", "fontSize": 22, "color": "black"},
 "encoding": {"x": {"field": "v", "type": "quantitative", "axis": {"orient": "top", "values": [-550,-500,-450,-350,-300,-250,-150,-100,-50,50,100,150,250,300,350,450,500,550], "labels": false, "domain": false, "grid": false, "tickSize": 5, "tickWidth": 2, "tickColor": "black", "offset": -5, "title": null}}, "y": {"field": "y", "type": "quantitative", "axis": null}, "text": {"field": "t"}}},
{"data": {"name": "lab"}, "transform": [{"filter": "datum.p==1 && datum.k=='R'"}], "mark": {"type": "text", "align": "right", "baseline": "alphabetic", "fontSize": 22, "color": "black"},
 "encoding": {"x": {"field": "v", "type": "quantitative", "axis": null}, "y": {"field": "y", "type": "quantitative", "axis": null}, "text": {"field": "t"}}},
{"data": {"name": "lab"}, "transform": [{"filter": "datum.p==1 && datum.k=='S'"}], "mark": {"type": "text", "align": "left", "baseline": "alphabetic", "fontSize": 14, "color": "black"},
 "encoding": {"x": {"field": "v", "type": "quantitative", "axis": null}, "y": {"field": "y", "type": "quantitative", "axis": null}, "text": {"field": "t"}}},
{"data": {"name": "ann"}, "transform": [{"filter": "datum.p==1"}], "mark": {"type": "text", "angle": 270, "align": "right", "baseline": "alphabetic", "fontSize": 10.5, "lineBreak": "\n", "lineHeight": 10.5, "color": "#222222"},
 "encoding": {"x": {"field": "v", "type": "quantitative", "axis": null}, "y": {"field": "y", "type": "quantitative", "axis": null}, "text": {"field": "t"}}}
]
},
{
"width": 584, "height": 146.4,
"resolve": {"axis": {"x": "independent", "y": "independent"}},
"layer": [
{"data": {"values": [{}]}, "mark": {"type": "rule", "color": "black", "strokeWidth": 1.3, "strokeDash": [2, 6]}, "encoding": {"y": {"datum": 0, "axis": null}}},
{"data": {"values": [{}]}, "mark": {"type": "rule", "color": "black", "strokeWidth": 1.5}, "encoding": {"y": {"datum": 1, "axis": null}}},
{"data": {"name": "flux"}, "transform": [{"filter": "datum.p==2"}], "mark": {"type": "line", "interpolate": "step", "strokeWidth": 1.4, "clip": true},
 "encoding": {
  "x": {"field": "v", "type": "quantitative", "scale": {"domain": [-600, 600], "nice": false, "zero": false}, "axis": {"orient": "bottom", "values": [-600,-400,-200,0,200,400,600], "labels": false, "domain": false, "grid": false, "tickSize": 9, "tickWidth": 3, "tickColor": "black", "offset": -9, "title": null}},
  "y": {"field": "f", "type": "quantitative", "scale": {"domain": [-0.2, 2], "nice": false, "zero": false}, "axis": {"orient": "left", "values": [0,0.5,1,1.5,2], "format": ".1f", "labelFlush": true, "labelFontSize": 22, "labelPadding": 6, "labelColor": "black", "domain": false, "grid": false, "tickSize": 11, "tickWidth": 3, "tickColor": "black", "offset": -11, "title": null}},
  "color": {"field": "s", "type": "nominal", "scale": {"domain": ["k1","k2","o","b"], "range": ["#000000","#000000","#f2b100","#1f6ff0"]}, "legend": null}}},
{"data": {"name": "err"}, "transform": [{"filter": "datum.p==2"}], "mark": {"type": "line", "interpolate": "step", "color": "#ff1a1a", "strokeWidth": 1.4, "clip": true},
 "encoding": {
  "x": {"field": "v", "type": "quantitative", "axis": {"orient": "top", "values": [-600,-400,-200,0,200,400,600], "labels": false, "domain": false, "grid": false, "tickSize": 9, "tickWidth": 3, "tickColor": "black", "offset": -9, "title": null}},
  "y": {"field": "e", "type": "quantitative", "axis": {"orient": "right", "values": [0,0.5,1,1.5,2], "labels": false, "domain": false, "grid": false, "tickSize": 11, "tickWidth": 3, "tickColor": "black", "offset": -11, "title": null}}}},
{"data": {"values": [{}]}, "mark": {"type": "rule", "color": "black", "strokeWidth": 1.4, "strokeDash": [13, 7]},
 "encoding": {"x": {"datum": 0, "axis": {"orient": "bottom", "values": [-550,-500,-450,-350,-300,-250,-150,-100,-50,50,100,150,250,300,350,450,500,550], "labels": false, "domain": false, "grid": false, "tickSize": 5, "tickWidth": 2, "tickColor": "black", "offset": -5, "title": null}}}},
{"data": {"name": "plus"}, "transform": [{"filter": "datum.p==2"}], "mark": {"type": "point", "shape": "M-1,0L1,0M0,-1L0,1", "filled": false, "color": "black", "strokeWidth": 1.3, "size": 170, "opacity": 1},
 "encoding": {"x": {"field": "v", "type": "quantitative", "axis": null}, "y": {"datum": 1.5, "axis": null}}},
{"data": {"name": "lab"}, "transform": [{"filter": "datum.p==2 && datum.k=='L'"}], "mark": {"type": "text", "align": "left", "baseline": "alphabetic", "fontSize": 22, "color": "black"},
 "encoding": {"x": {"field": "v", "type": "quantitative", "axis": {"orient": "top", "values": [-550,-500,-450,-350,-300,-250,-150,-100,-50,50,100,150,250,300,350,450,500,550], "labels": false, "domain": false, "grid": false, "tickSize": 5, "tickWidth": 2, "tickColor": "black", "offset": -5, "title": null}}, "y": {"field": "y", "type": "quantitative", "axis": null}, "text": {"field": "t"}}},
{"data": {"name": "lab"}, "transform": [{"filter": "datum.p==2 && datum.k=='R'"}], "mark": {"type": "text", "align": "right", "baseline": "alphabetic", "fontSize": 22, "color": "black"},
 "encoding": {"x": {"field": "v", "type": "quantitative", "axis": null}, "y": {"field": "y", "type": "quantitative", "axis": null}, "text": {"field": "t"}}},
{"data": {"name": "lab"}, "transform": [{"filter": "datum.p==2 && datum.k=='S'"}], "mark": {"type": "text", "align": "left", "baseline": "alphabetic", "fontSize": 14, "color": "black"},
 "encoding": {"x": {"field": "v", "type": "quantitative", "axis": null}, "y": {"field": "y", "type": "quantitative", "axis": null}, "text": {"field": "t"}}},
{"data": {"name": "ann"}, "transform": [{"filter": "datum.p==2"}], "mark": {"type": "text", "angle": 270, "align": "right", "baseline": "alphabetic", "fontSize": 10.5, "lineBreak": "\n", "lineHeight": 10.5, "color": "#222222"},
 "encoding": {"x": {"field": "v", "type": "quantitative", "axis": null}, "y": {"field": "y", "type": "quantitative", "axis": null}, "text": {"field": "t"}}}
]
},
{
"width": 584, "height": 146.4,
"resolve": {"axis": {"x": "independent", "y": "independent"}},
"layer": [
{"data": {"values": [{}]}, "mark": {"type": "rule", "color": "black", "strokeWidth": 1.3, "strokeDash": [2, 6]}, "encoding": {"y": {"datum": 0, "axis": null}}},
{"data": {"values": [{}]}, "mark": {"type": "rule", "color": "black", "strokeWidth": 1.5}, "encoding": {"y": {"datum": 1, "axis": null}}},
{"data": {"name": "flux"}, "transform": [{"filter": "datum.p==3"}], "mark": {"type": "line", "interpolate": "step", "strokeWidth": 1.4, "clip": true},
 "encoding": {
  "x": {"field": "v", "type": "quantitative", "scale": {"domain": [-600, 600], "nice": false, "zero": false}, "axis": {"orient": "bottom", "values": [-600,-400,-200,0,200,400,600], "labels": false, "domain": false, "grid": false, "tickSize": 9, "tickWidth": 3, "tickColor": "black", "offset": -9, "title": null}},
  "y": {"field": "f", "type": "quantitative", "scale": {"domain": [-0.2, 2], "nice": false, "zero": false}, "axis": {"orient": "left", "values": [0,0.5,1,1.5,2], "format": ".1f", "labelFlush": true, "labelFontSize": 22, "labelPadding": 6, "labelColor": "black", "domain": false, "grid": false, "tickSize": 11, "tickWidth": 3, "tickColor": "black", "offset": -11, "title": null}},
  "color": {"field": "s", "type": "nominal", "scale": {"domain": ["k1","k2","o","b"], "range": ["#000000","#000000","#f2b100","#1f6ff0"]}, "legend": null}}},
{"data": {"name": "err"}, "transform": [{"filter": "datum.p==3"}], "mark": {"type": "line", "interpolate": "step", "color": "#ff1a1a", "strokeWidth": 1.4, "clip": true},
 "encoding": {
  "x": {"field": "v", "type": "quantitative", "axis": {"orient": "top", "values": [-600,-400,-200,0,200,400,600], "labels": false, "domain": false, "grid": false, "tickSize": 9, "tickWidth": 3, "tickColor": "black", "offset": -9, "title": null}},
  "y": {"field": "e", "type": "quantitative", "axis": {"orient": "right", "values": [0,0.5,1,1.5,2], "labels": false, "domain": false, "grid": false, "tickSize": 11, "tickWidth": 3, "tickColor": "black", "offset": -11, "title": null}}}},
{"data": {"values": [{}]}, "mark": {"type": "rule", "color": "black", "strokeWidth": 1.4, "strokeDash": [13, 7]},
 "encoding": {"x": {"datum": 0, "axis": {"orient": "bottom", "values": [-550,-500,-450,-350,-300,-250,-150,-100,-50,50,100,150,250,300,350,450,500,550], "labels": false, "domain": false, "grid": false, "tickSize": 5, "tickWidth": 2, "tickColor": "black", "offset": -5, "title": null}}}},
{"data": {"name": "plus"}, "transform": [{"filter": "datum.p==3"}], "mark": {"type": "point", "shape": "M-1,0L1,0M0,-1L0,1", "filled": false, "color": "black", "strokeWidth": 1.3, "size": 170, "opacity": 1},
 "encoding": {"x": {"field": "v", "type": "quantitative", "axis": null}, "y": {"datum": 1.5, "axis": null}}},
{"data": {"name": "lab"}, "transform": [{"filter": "datum.p==3 && datum.k=='L'"}], "mark": {"type": "text", "align": "left", "baseline": "alphabetic", "fontSize": 22, "color": "black"},
 "encoding": {"x": {"field": "v", "type": "quantitative", "axis": {"orient": "top", "values": [-550,-500,-450,-350,-300,-250,-150,-100,-50,50,100,150,250,300,350,450,500,550], "labels": false, "domain": false, "grid": false, "tickSize": 5, "tickWidth": 2, "tickColor": "black", "offset": -5, "title": null}}, "y": {"field": "y", "type": "quantitative", "axis": null}, "text": {"field": "t"}}},
{"data": {"name": "lab"}, "transform": [{"filter": "datum.p==3 && datum.k=='R'"}], "mark": {"type": "text", "align": "right", "baseline": "alphabetic", "fontSize": 22, "color": "black"},
 "encoding": {"x": {"field": "v", "type": "quantitative", "axis": null}, "y": {"field": "y", "type": "quantitative", "axis": null}, "text": {"field": "t"}}},
{"data": {"name": "lab"}, "transform": [{"filter": "datum.p==3 && datum.k=='S'"}], "mark": {"type": "text", "align": "left", "baseline": "alphabetic", "fontSize": 14, "color": "black"},
 "encoding": {"x": {"field": "v", "type": "quantitative", "axis": null}, "y": {"field": "y", "type": "quantitative", "axis": null}, "text": {"field": "t"}}},
{"data": {"name": "ann"}, "transform": [{"filter": "datum.p==3"}], "mark": {"type": "text", "angle": 270, "align": "right", "baseline": "alphabetic", "fontSize": 10.5, "lineBreak": "\n", "lineHeight": 10.5, "color": "#222222"},
 "encoding": {"x": {"field": "v", "type": "quantitative", "axis": null}, "y": {"field": "y", "type": "quantitative", "axis": null}, "text": {"field": "t"}}}
]
},
{
"width": 584, "height": 146.4,
"resolve": {"axis": {"x": "independent", "y": "independent"}},
"layer": [
{"data": {"values": [{}]}, "mark": {"type": "rule", "color": "black", "strokeWidth": 1.3, "strokeDash": [2, 6]}, "encoding": {"y": {"datum": 0, "axis": null}}},
{"data": {"values": [{}]}, "mark": {"type": "rule", "color": "black", "strokeWidth": 1.5}, "encoding": {"y": {"datum": 1, "axis": null}}},
{"data": {"name": "flux"}, "transform": [{"filter": "datum.p==4"}], "mark": {"type": "line", "interpolate": "step", "strokeWidth": 1.4, "clip": true},
 "encoding": {
  "x": {"field": "v", "type": "quantitative", "scale": {"domain": [-600, 600], "nice": false, "zero": false}, "axis": {"orient": "bottom", "values": [-600,-400,-200,0,200,400,600], "labels": false, "domain": false, "grid": false, "tickSize": 9, "tickWidth": 3, "tickColor": "black", "offset": -9, "title": null}},
  "y": {"field": "f", "type": "quantitative", "scale": {"domain": [-0.2, 2], "nice": false, "zero": false}, "axis": {"orient": "left", "values": [0,0.5,1,1.5,2], "format": ".1f", "labelFlush": true, "labelFontSize": 22, "labelPadding": 6, "labelColor": "black", "domain": false, "grid": false, "tickSize": 11, "tickWidth": 3, "tickColor": "black", "offset": -11, "title": null}},
  "color": {"field": "s", "type": "nominal", "scale": {"domain": ["k1","k2","o","b"], "range": ["#000000","#000000","#f2b100","#1f6ff0"]}, "legend": null}}},
{"data": {"name": "err"}, "transform": [{"filter": "datum.p==4"}], "mark": {"type": "line", "interpolate": "step", "color": "#ff1a1a", "strokeWidth": 1.4, "clip": true},
 "encoding": {
  "x": {"field": "v", "type": "quantitative", "axis": {"orient": "top", "values": [-600,-400,-200,0,200,400,600], "labels": false, "domain": false, "grid": false, "tickSize": 9, "tickWidth": 3, "tickColor": "black", "offset": -9, "title": null}},
  "y": {"field": "e", "type": "quantitative", "axis": {"orient": "right", "values": [0,0.5,1,1.5,2], "labels": false, "domain": false, "grid": false, "tickSize": 11, "tickWidth": 3, "tickColor": "black", "offset": -11, "title": null}}}},
{"data": {"values": [{}]}, "mark": {"type": "rule", "color": "black", "strokeWidth": 1.4, "strokeDash": [13, 7]},
 "encoding": {"x": {"datum": 0, "axis": {"orient": "bottom", "values": [-550,-500,-450,-350,-300,-250,-150,-100,-50,50,100,150,250,300,350,450,500,550], "labels": false, "domain": false, "grid": false, "tickSize": 5, "tickWidth": 2, "tickColor": "black", "offset": -5, "title": null}}}},
{"data": {"name": "plus"}, "transform": [{"filter": "datum.p==4"}], "mark": {"type": "point", "shape": "M-1,0L1,0M0,-1L0,1", "filled": false, "color": "black", "strokeWidth": 1.3, "size": 170, "opacity": 1},
 "encoding": {"x": {"field": "v", "type": "quantitative", "axis": null}, "y": {"datum": 1.5, "axis": null}}},
{"data": {"name": "lab"}, "transform": [{"filter": "datum.p==4 && datum.k=='L'"}], "mark": {"type": "text", "align": "left", "baseline": "alphabetic", "fontSize": 22, "color": "black"},
 "encoding": {"x": {"field": "v", "type": "quantitative", "axis": {"orient": "top", "values": [-550,-500,-450,-350,-300,-250,-150,-100,-50,50,100,150,250,300,350,450,500,550], "labels": false, "domain": false, "grid": false, "tickSize": 5, "tickWidth": 2, "tickColor": "black", "offset": -5, "title": null}}, "y": {"field": "y", "type": "quantitative", "axis": null}, "text": {"field": "t"}}},
{"data": {"name": "lab"}, "transform": [{"filter": "datum.p==4 && datum.k=='R'"}], "mark": {"type": "text", "align": "right", "baseline": "alphabetic", "fontSize": 22, "color": "black"},
 "encoding": {"x": {"field": "v", "type": "quantitative", "axis": null}, "y": {"field": "y", "type": "quantitative", "axis": null}, "text": {"field": "t"}}},
{"data": {"name": "lab"}, "transform": [{"filter": "datum.p==4 && datum.k=='S'"}], "mark": {"type": "text", "align": "left", "baseline": "alphabetic", "fontSize": 14, "color": "black"},
 "encoding": {"x": {"field": "v", "type": "quantitative", "axis": null}, "y": {"field": "y", "type": "quantitative", "axis": null}, "text": {"field": "t"}}},
{"data": {"name": "ann"}, "transform": [{"filter": "datum.p==4"}], "mark": {"type": "text", "angle": 270, "align": "right", "baseline": "alphabetic", "fontSize": 10.5, "lineBreak": "\n", "lineHeight": 10.5, "color": "#222222"},
 "encoding": {"x": {"field": "v", "type": "quantitative", "axis": null}, "y": {"field": "y", "type": "quantitative", "axis": null}, "text": {"field": "t"}}}
]
},
{
"width": 584, "height": 146.4,
"resolve": {"axis": {"x": "independent", "y": "independent"}},
"layer": [
{"data": {"values": [{}]}, "mark": {"type": "rule", "color": "black", "strokeWidth": 1.3, "strokeDash": [2, 6]}, "encoding": {"y": {"datum": 0, "axis": null}}},
{"data": {"values": [{}]}, "mark": {"type": "rule", "color": "black", "strokeWidth": 1.5}, "encoding": {"y": {"datum": 1, "axis": null}}},
{"data": {"name": "flux"}, "transform": [{"filter": "datum.p==5"}], "mark": {"type": "line", "interpolate": "step", "strokeWidth": 1.4, "clip": true},
 "encoding": {
  "x": {"field": "v", "type": "quantitative", "scale": {"domain": [-600, 600], "nice": false, "zero": false}, "axis": {"orient": "bottom", "values": [-600,-400,-200,0,200,400,600], "labels": false, "domain": false, "grid": false, "tickSize": 9, "tickWidth": 3, "tickColor": "black", "offset": -9, "title": null}},
  "y": {"field": "f", "type": "quantitative", "scale": {"domain": [-0.2, 2], "nice": false, "zero": false}, "axis": {"orient": "left", "values": [0,0.5,1,1.5,2], "format": ".1f", "labelFlush": true, "labelFontSize": 22, "labelPadding": 6, "labelColor": "black", "domain": false, "grid": false, "tickSize": 11, "tickWidth": 3, "tickColor": "black", "offset": -11, "title": null}},
  "color": {"field": "s", "type": "nominal", "scale": {"domain": ["k1","k2","o","b"], "range": ["#000000","#000000","#f2b100","#1f6ff0"]}, "legend": null}}},
{"data": {"name": "err"}, "transform": [{"filter": "datum.p==5"}], "mark": {"type": "line", "interpolate": "step", "color": "#ff1a1a", "strokeWidth": 1.4, "clip": true},
 "encoding": {
  "x": {"field": "v", "type": "quantitative", "axis": {"orient": "top", "values": [-600,-400,-200,0,200,400,600], "labels": false, "domain": false, "grid": false, "tickSize": 9, "tickWidth": 3, "tickColor": "black", "offset": -9, "title": null}},
  "y": {"field": "e", "type": "quantitative", "axis": {"orient": "right", "values": [0,0.5,1,1.5,2], "labels": false, "domain": false, "grid": false, "tickSize": 11, "tickWidth": 3, "tickColor": "black", "offset": -11, "title": null}}}},
{"data": {"values": [{}]}, "mark": {"type": "rule", "color": "black", "strokeWidth": 1.4, "strokeDash": [13, 7]},
 "encoding": {"x": {"datum": 0, "axis": {"orient": "bottom", "values": [-550,-500,-450,-350,-300,-250,-150,-100,-50,50,100,150,250,300,350,450,500,550], "labels": false, "domain": false, "grid": false, "tickSize": 5, "tickWidth": 2, "tickColor": "black", "offset": -5, "title": null}}}},
{"data": {"name": "plus"}, "transform": [{"filter": "datum.p==5"}], "mark": {"type": "point", "shape": "M-1,0L1,0M0,-1L0,1", "filled": false, "color": "black", "strokeWidth": 1.3, "size": 170, "opacity": 1},
 "encoding": {"x": {"field": "v", "type": "quantitative", "axis": null}, "y": {"datum": 1.5, "axis": null}}},
{"data": {"name": "lab"}, "transform": [{"filter": "datum.p==5 && datum.k=='L'"}], "mark": {"type": "text", "align": "left", "baseline": "alphabetic", "fontSize": 22, "color": "black"},
 "encoding": {"x": {"field": "v", "type": "quantitative", "axis": {"orient": "top", "values": [-550,-500,-450,-350,-300,-250,-150,-100,-50,50,100,150,250,300,350,450,500,550], "labels": false, "domain": false, "grid": false, "tickSize": 5, "tickWidth": 2, "tickColor": "black", "offset": -5, "title": null}}, "y": {"field": "y", "type": "quantitative", "axis": null}, "text": {"field": "t"}}},
{"data": {"name": "lab"}, "transform": [{"filter": "datum.p==5 && datum.k=='R'"}], "mark": {"type": "text", "align": "right", "baseline": "alphabetic", "fontSize": 22, "color": "black"},
 "encoding": {"x": {"field": "v", "type": "quantitative", "axis": null}, "y": {"field": "y", "type": "quantitative", "axis": null}, "text": {"field": "t"}}},
{"data": {"name": "lab"}, "transform": [{"filter": "datum.p==5 && datum.k=='S'"}], "mark": {"type": "text", "align": "left", "baseline": "alphabetic", "fontSize": 14, "color": "black"},
 "encoding": {"x": {"field": "v", "type": "quantitative", "axis": null}, "y": {"field": "y", "type": "quantitative", "axis": null}, "text": {"field": "t"}}},
{"data": {"name": "ann"}, "transform": [{"filter": "datum.p==5"}], "mark": {"type": "text", "angle": 270, "align": "right", "baseline": "alphabetic", "fontSize": 10.5, "lineBreak": "\n", "lineHeight": 10.5, "color": "#222222"},
 "encoding": {"x": {"field": "v", "type": "quantitative", "axis": null}, "y": {"field": "y", "type": "quantitative", "axis": null}, "text": {"field": "t"}}}
]
},
{
"width": 584, "height": 146.4,
"resolve": {"axis": {"x": "independent", "y": "independent"}},
"layer": [
{"data": {"name": "flux"}, "transform": [{"filter": "datum.p==6"}], "mark": {"type": "line", "interpolate": "step", "strokeWidth": 1.4, "clip": true},
 "encoding": {
  "x": {"field": "v", "type": "quantitative", "scale": {"domain": [-600, 600], "nice": false, "zero": false}, "axis": {"orient": "bottom", "values": [-600,-400,-200,0,200,400,600], "labels": false, "domain": false, "grid": false, "tickSize": 9, "tickWidth": 3, "tickColor": "black", "offset": -9, "title": null}},
  "y": {"field": "f", "type": "quantitative", "scale": {"domain": [-0.2, 2], "nice": false, "zero": false}, "axis": {"orient": "left", "values": [0,0.5,1,1.5,2], "format": ".1f", "labelFlush": true, "labelFontSize": 22, "labelPadding": 6, "labelColor": "black", "domain": false, "grid": false, "tickSize": 11, "tickWidth": 3, "tickColor": "black", "offset": -11, "title": null}},
  "color": {"field": "s", "type": "nominal", "scale": {"domain": ["k1","k2","o","b"], "range": ["#000000","#000000","#f2b100","#1f6ff0"]}, "legend": null}}},
{"data": {"name": "err"}, "transform": [{"filter": "datum.p==6"}], "mark": {"type": "line", "interpolate": "step", "color": "#ff1a1a", "strokeWidth": 1.4, "clip": true},
 "encoding": {
  "x": {"field": "v", "type": "quantitative", "axis": {"orient": "top", "values": [-600,-400,-200,0,200,400,600], "labels": false, "domain": false, "grid": false, "tickSize": 9, "tickWidth": 3, "tickColor": "black", "offset": -9, "title": null}},
  "y": {"field": "e", "type": "quantitative", "axis": {"orient": "right", "values": [0,0.5,1,1.5,2], "labels": false, "domain": false, "grid": false, "tickSize": 11, "tickWidth": 3, "tickColor": "black", "offset": -11, "title": null}}}},
{"data": {"values": [{}]}, "mark": {"type": "rule", "color": "black", "strokeWidth": 1.4, "strokeDash": [13, 7]},
 "encoding": {"x": {"datum": 0, "axis": {"orient": "bottom", "values": [-550,-500,-450,-350,-300,-250,-150,-100,-50,50,100,150,250,300,350,450,500,550], "labels": false, "domain": false, "grid": false, "tickSize": 5, "tickWidth": 2, "tickColor": "black", "offset": -5, "title": null}}}},
{"data": {"name": "lab"}, "transform": [{"filter": "datum.p==6 && datum.k=='L'"}], "mark": {"type": "text", "align": "left", "baseline": "alphabetic", "fontSize": 22, "color": "black"},
 "encoding": {"x": {"field": "v", "type": "quantitative", "axis": {"orient": "top", "values": [-550,-500,-450,-350,-300,-250,-150,-100,-50,50,100,150,250,300,350,450,500,550], "labels": false, "domain": false, "grid": false, "tickSize": 5, "tickWidth": 2, "tickColor": "black", "offset": -5, "title": null}}, "y": {"field": "y", "type": "quantitative", "axis": null}, "text": {"field": "t"}}},
{"data": {"name": "lab"}, "transform": [{"filter": "datum.p==6 && datum.k=='R'"}], "mark": {"type": "text", "align": "right", "baseline": "alphabetic", "fontSize": 22, "color": "black"},
 "encoding": {"x": {"field": "v", "type": "quantitative", "axis": null}, "y": {"field": "y", "type": "quantitative", "axis": null}, "text": {"field": "t"}}},
{"data": {"name": "ann"}, "transform": [{"filter": "datum.p==6"}], "mark": {"type": "text", "angle": 270, "align": "right", "baseline": "alphabetic", "fontSize": 10.5, "lineBreak": "\n", "lineHeight": 10.5, "color": "#222222"},
 "encoding": {"x": {"field": "v", "type": "quantitative", "axis": null}, "y": {"field": "y", "type": "quantitative", "axis": null}, "text": {"field": "t"}}}
]
},
{
"width": 584, "height": 146.4,
"resolve": {"axis": {"x": "independent", "y": "independent"}},
"layer": [
{"data": {"name": "flux"}, "transform": [{"filter": "datum.p==7"}], "mark": {"type": "line", "interpolate": "step", "strokeWidth": 1.4, "clip": true},
 "encoding": {
  "x": {"field": "v", "type": "quantitative", "scale": {"domain": [-600, 600], "nice": false, "zero": false}, "axis": {"orient": "bottom", "values": [-600,-400,-200,0,200,400,600], "format": "d", "labelFlush": false, "labelFontSize": 27, "labelPadding": 10, "labelColor": "black", "domain": false, "grid": false, "tickSize": 9, "tickWidth": 3, "tickColor": "black", "offset": -9, "title": "Velocity [km s⁻¹]", "titleFontSize": 27, "titleFontWeight": "normal", "titleColor": "black", "titlePadding": 4}},
  "y": {"field": "f", "type": "quantitative", "scale": {"domain": [-0.2, 2], "nice": false, "zero": false}, "axis": {"orient": "left", "values": [0,0.5,1,1.5,2], "format": ".1f", "labelFlush": true, "labelFontSize": 22, "labelPadding": 6, "labelColor": "black", "domain": false, "grid": false, "tickSize": 11, "tickWidth": 3, "tickColor": "black", "offset": -11, "title": null}},
  "color": {"field": "s", "type": "nominal", "scale": {"domain": ["k1","k2","o","b"], "range": ["#000000","#000000","#f2b100","#1f6ff0"]}, "legend": null}}},
{"data": {"name": "err"}, "transform": [{"filter": "datum.p==7"}], "mark": {"type": "line", "interpolate": "step", "color": "#ff1a1a", "strokeWidth": 1.4, "clip": true},
 "encoding": {
  "x": {"field": "v", "type": "quantitative", "axis": {"orient": "top", "values": [-600,-400,-200,0,200,400,600], "labels": false, "domain": false, "grid": false, "tickSize": 9, "tickWidth": 3, "tickColor": "black", "offset": -9, "title": null}},
  "y": {"field": "e", "type": "quantitative", "axis": {"orient": "right", "values": [0,0.5,1,1.5,2], "labels": false, "domain": false, "grid": false, "tickSize": 11, "tickWidth": 3, "tickColor": "black", "offset": -11, "title": null}}}},
{"data": {"values": [{}]}, "mark": {"type": "rule", "color": "black", "strokeWidth": 1.4, "strokeDash": [13, 7]},
 "encoding": {"x": {"datum": 0, "axis": {"orient": "bottom", "values": [-550,-500,-450,-350,-300,-250,-150,-100,-50,50,100,150,250,300,350,450,500,550], "labels": false, "domain": false, "grid": false, "tickSize": 5, "tickWidth": 2, "tickColor": "black", "offset": -5, "title": null}}}},
{"data": {"name": "lab"}, "transform": [{"filter": "datum.p==7 && datum.k=='L'"}], "mark": {"type": "text", "align": "left", "baseline": "alphabetic", "fontSize": 22, "color": "black"},
 "encoding": {"x": {"field": "v", "type": "quantitative", "axis": {"orient": "top", "values": [-550,-500,-450,-350,-300,-250,-150,-100,-50,50,100,150,250,300,350,450,500,550], "labels": false, "domain": false, "grid": false, "tickSize": 5, "tickWidth": 2, "tickColor": "black", "offset": -5, "title": null}}, "y": {"field": "y", "type": "quantitative", "axis": null}, "text": {"field": "t"}}},
{"data": {"name": "lab"}, "transform": [{"filter": "datum.p==7 && datum.k=='R'"}], "mark": {"type": "text", "align": "right", "baseline": "alphabetic", "fontSize": 22, "color": "black"},
 "encoding": {"x": {"field": "v", "type": "quantitative", "axis": null}, "y": {"field": "y", "type": "quantitative", "axis": null}, "text": {"field": "t"}}},
{"data": {"name": "ann"}, "transform": [{"filter": "datum.p==7"}], "mark": {"type": "text", "angle": 270, "align": "right", "baseline": "alphabetic", "fontSize": 10.5, "lineBreak": "\n", "lineHeight": 10.5, "color": "#222222"},
 "encoding": {"x": {"field": "v", "type": "quantitative", "axis": null}, "y": {"field": "y", "type": "quantitative", "axis": null}, "text": {"field": "t"}}}
]
}
]
}
]
}
